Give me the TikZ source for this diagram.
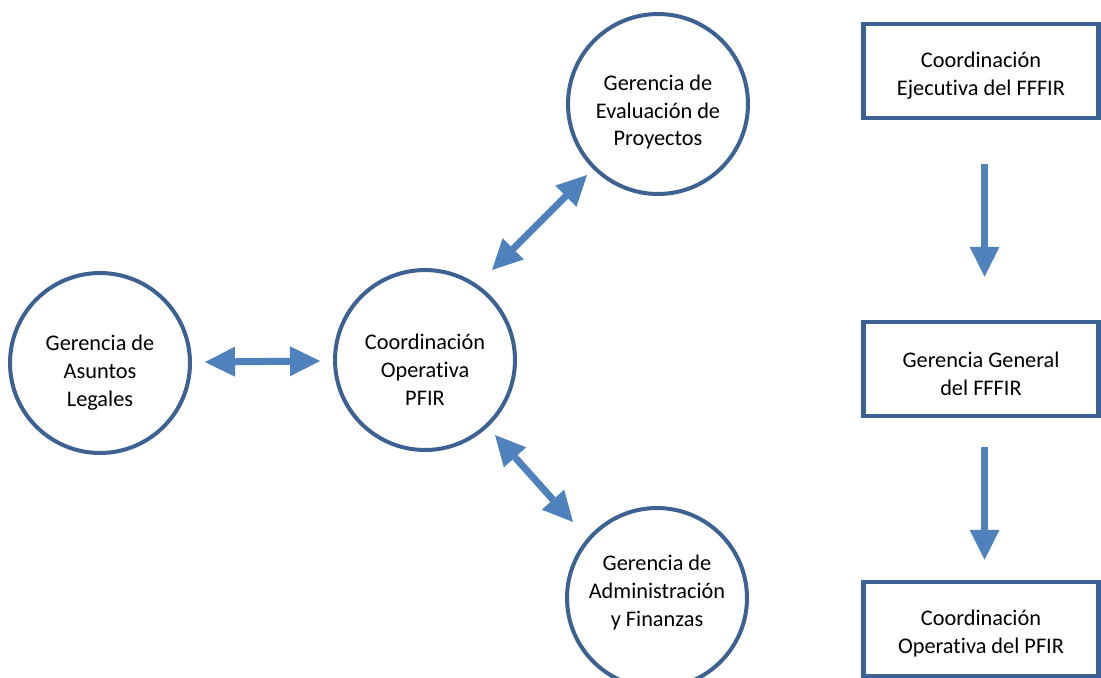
\documentclass[tikz,border=0pt]{standalone}
\usepackage{fontspec}
\setmainfont{Carlito}[Ligatures=NoCommon]
\usetikzlibrary{arrows.meta}
\definecolor{ringblue}{HTML}{3C6192}
\definecolor{arrowblue}{HTML}{4F81BD}
\newcommand\alto[1]{\rule{0pt}{#1}}
\begin{document}
\begin{tikzpicture}[x=0.02cm, y=-0.02cm,
    font=\fontsize{12.7}{15.9}\selectfont,
    subir/.style={execute at end node={\rule[-#1]{0pt}{0pt}}},
    gerencia/.style={circle, draw=ringblue, line width=0.08cm, minimum size=3.6cm, inner sep=0pt, align=center},
    caja/.style={rectangle, draw=ringblue, line width=0.09cm, minimum width=4.7cm, minimum height=1.88cm, inner sep=0pt, align=center},
    punta/.tip={Triangle[width=0.6cm, length=0.6cm, line width=0pt]},
    flecha/.style={draw=arrowblue, line width=0.14cm, -punta},
    doble/.style={draw=arrowblue, line width=0.14cm, punta-punta}]
  \useasboundingbox (0,0) rectangle (1101,677);

  % circulos
  \node[gerencia] (legales) at (100,363) {\alto{19.5pt}Gerencia de\\Asuntos\\Legales};
  \node[gerencia] (coord) at (425,360) {\alto{19.5pt}Coordinación\\Operativa\\PFIR};
  \node[gerencia] (evaluacion) at (658,104) {\alto{18pt}Gerencia de\\Evaluación de\\Proyectos};
  \node[gerencia, subir=8pt] (admin) at (657,598) {Gerencia de\\Administración\\y Finanzas};

  % cajas
  \node[caja] (ejecutiva) at (981,71) {\alto{14pt}Coordinación\\Ejecutiva del FFFIR};
  \node[caja] (general) at (981,369) {\alto{14pt}Gerencia General\\del FFFIR};
  \node[caja] (operativa) at (981,629) {\alto{14pt}Coordinación\\Operativa del PFIR};

  \coordinate (c1) at (492,270);
  \coordinate (e1) at (587,175);
  \coordinate (c2) at (495,435);
  \coordinate (a2) at (573,522);

  \draw[doble, shorten <=0.26cm, shorten >=0.26cm] (legales) -- (coord);
  \draw[doble] (c1) -- (e1);
  \draw[doble] (c2) -- (a2);

  \draw[flecha, shorten <=0.88cm, shorten >=0.86cm] ([xshift=0.07cm]ejecutiva.south) -- ([xshift=0.07cm]general.north);
  \draw[flecha, shorten <=0.58cm, shorten >=0.4cm] ([xshift=0.07cm]general.south) -- ([xshift=0.07cm]operativa.north);
\end{tikzpicture}
\end{document}
